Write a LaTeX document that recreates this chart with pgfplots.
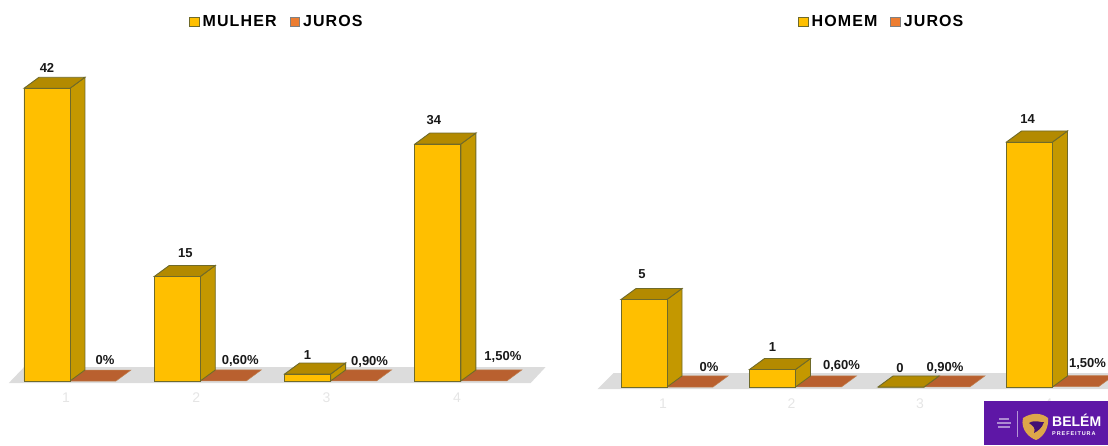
\documentclass[border=0pt]{standalone}
\usepackage{fontspec}
\usepackage{pgfplots}
\pgfplotsset{compat=1.18}
\setmainfont{Liberation Sans}
\newfontfamily\legfont[LetterSpace=7]{Liberation Sans Bold}
\definecolor{front}{HTML}{FFBF00}
\definecolor{sidec}{HTML}{C49800}
\definecolor{topc}{HTML}{B38A00}
\definecolor{edgec}{HTML}{6F6A2A}
\definecolor{juros}{HTML}{B9602F}
\definecolor{jedge}{HTML}{C08050}
\definecolor{floorc}{HTML}{DCDCDC}
\definecolor{legor}{HTML}{ED7D31}
\definecolor{legy}{HTML}{FFC000}
\definecolor{purp}{HTML}{5E17A6}
\definecolor{gold}{HTML}{DDA64A}
\newcommand\sideface[2]{%
  \pgfmathsetmacro\xr{#1+\ddx}\pgfmathsetmacro\yt{#2+\ddy}%
  \edef\temp{\noexpand\addplot[fill=sidec,draw=edgec,line width=0.9pt] coordinates {(#1,0)(\xr,\ddy)(\xr,\yt)(#1,#2)} --cycle;}\temp
  \pgfmathsetmacro\xl{#1-\bw}\pgfmathsetmacro\xm{#1-\bw+\ddx}%
  \edef\temp{\noexpand\addplot[fill=topc,draw=edgec,line width=0.9pt] coordinates {(\xl,#2)(#1,#2)(\xr,\yt)(\xm,\yt)} --cycle;}\temp}
\newcommand\flatface[2]{%
  \pgfmathsetmacro\xa{#1+\bw}\pgfmathsetmacro\xb{#1+\bw+\ddx}\pgfmathsetmacro\xc{#1+\ddx}\pgfmathsetmacro\yt{#2+\ddy}%
  \edef\temp{\noexpand\addplot[fill=juros,draw=jedge,line width=0.5pt] coordinates {(#1,#2)(\xa,#2)(\xb,\yt)(\xc,\yt)} --cycle;}\temp}
\pgfplotsset{panel/.style={
  scale only axis, axis x line=bottom, axis y line=none, clip=false, ymin=0,
  x axis line style={draw=none,-}, 
  xtick={1,2,3,4}, ytick=\empty, tick style={draw=none},
  xticklabel style={text=black!10,font=\fontsize{14}{14}\selectfont,xshift=-4pt,yshift=-6pt},
  /pgf/number format/assume math mode=true,
  legend columns=2,
  legend cell align=left,
  legend image code/.code={\draw[##1,line width=0.9pt] (0pt,-4.5pt) rectangle (9.5pt,5pt);},
  legend style={draw=none,fill=none,font=\legfont\fontsize{16}{16}\selectfont,
    /tikz/every even column/.append style={column sep=10pt},inner sep=0pt,nodes={inner xsep=3pt,inner ysep=0pt}},
}}
\tikzset{vl/.style={font=\bfseries\fontsize{13}{13}\selectfont,inner sep=0pt,text=black!90}}
\begin{document}
\begin{tikzpicture}[x=1pt,y=1pt]
\path[use as bounding box] (0,0) rectangle (1108,445);
% left chart: baseline at pixel row 381
\begin{axis}[panel,at={(0pt,64pt)},anchor=south west,width=550pt,height=351pt,
  xmin=0.4628,xmax=4.6838,ymax=50.36,
  legend style={at={(189pt,361pt)},anchor=west}]
\addlegendimage{fill=legy,draw=edgec}\addlegendentry{MULHER}
\addlegendimage{fill=legor,draw=gray}\addlegendentry{JUROS}
\def\bw{0.353}\def\ddx{0.115}\def\ddy{1.578}
\addplot[fill=floorc,draw=none] coordinates {(0.53,-0.3)(0.648,2)(4.65,2)(4.535,-0.3)} --cycle;
\flatface{1}{0}\flatface{2}{0.006}\flatface{3}{0.009}\flatface{4}{0.015}
\sideface{1}{42}\sideface{2}{15}\sideface{3}{1}\sideface{4}{34}
\addplot[ybar,bar width=46pt,bar shift=-23pt,fill=front,draw=edgec,line width=0.9pt] coordinates {(1,42)(2,15)(3,1)(4,34)};
\node[vl] at (axis cs:1,42) [xshift=-23pt,yshift=20pt] {42};
\node[vl] at (axis cs:2,15) [xshift=-15pt,yshift=23pt] {15};
\node[vl] at (axis cs:3,1) [xshift=-23pt,yshift=19pt] {1};
\node[vl] at (axis cs:4,34) [xshift=-27pt,yshift=24pt] {34};
\node[vl] at (axis cs:1,0) [xshift=35pt,yshift=21pt] {0\%};
\node[vl] at (axis cs:2,0) [xshift=40pt,yshift=20pt] {0,60\%};
\node[vl] at (axis cs:3,0) [xshift=39pt,yshift=19pt] {0,90\%};
\node[vl] at (axis cs:4,0) [xshift=42pt,yshift=24pt] {1,50\%};
\end{axis}
% right chart: baseline at pixel row 387
\begin{axis}[panel,at={(590pt,58pt)},anchor=south west,width=518pt,height=357pt,
  xmin=0.4008,xmax=4.4319,ymax=20.4,
  legend style={at={(208pt,367pt)},anchor=west}]
\addlegendimage{fill=legy,draw=edgec}\addlegendentry{HOMEM}
\addlegendimage{fill=legor,draw=gray}\addlegendentry{JUROS}
\def\bw{0.358}\def\ddx{0.117}\def\ddy{0.629}
\addplot[fill=floorc,draw=none] coordinates {(0.46,-0.12)(0.585,0.8)(4.6,0.8)(4.5,-0.12)} --cycle;
\flatface{1}{0}\flatface{2}{0.006}\flatface{3}{0.009}\flatface{4}{0.015}
\sideface{1}{5}\sideface{2}{1}\sideface{3}{0}\sideface{4}{14}
\addplot[ybar,bar width=46pt,bar shift=-23pt,fill=front,draw=edgec,line width=0.9pt] coordinates {(1,5)(2,1)(3,0)(4,14)};
\node[vl] at (axis cs:1,5) [xshift=-25pt,yshift=25pt] {5};
\node[vl] at (axis cs:2,1) [xshift=-23pt,yshift=22pt] {1};
\node[vl] at (axis cs:3,0) [xshift=-24pt,yshift=19pt] {0};
\node[vl] at (axis cs:4,14) [xshift=-25pt,yshift=23pt] {14};
\node[vl] at (axis cs:1,0) [xshift=42pt,yshift=20pt] {0\%};
\node[vl] at (axis cs:2,0) [xshift=46pt,yshift=21pt] {0,60\%};
\node[vl] at (axis cs:3,0) [xshift=21pt,yshift=19pt] {0,90\%};
\node[vl] at (axis cs:4,0) [xshift=35pt,yshift=23pt] {1,50\%};
\end{axis}
% logo
\fill[purp] (984,0) rectangle (1108,44);
\fill[white,opacity=.55] (1017,8) rectangle (1017.8,34);
\foreach \y/\w in {25/10,21/14,17/12} \fill[white,opacity=.5] (1004-\w/2,\y) rectangle (1004+\w/2,\y+1.6);
\fill[gold] (1023,27) .. controls (1032,33) and (1042,32) .. (1048,27) .. controls (1049,18) and (1044,8) .. (1036,5) .. controls (1030,7) and (1020,15) .. (1023,27) -- cycle;
\fill[purp!70!black] (1029,22) .. controls (1036,26) and (1040,22) .. (1044,23) .. controls (1042,17) and (1038,14) .. (1034,12) .. controls (1036,17) and (1033,19) .. (1029,22) -- cycle;
\node[anchor=base west,inner sep=0pt,text=white,font=\bfseries\fontsize{14}{14}\selectfont] at (1052,19) {BELÉM};
\node[anchor=base west,inner sep=0pt,text=white,font=\bfseries\fontsize{5.5}{6}\selectfont] at (1052,10) {P\,R\,E\,F\,E\,I\,T\,U\,R\,A};
\end{tikzpicture}
\end{document}
